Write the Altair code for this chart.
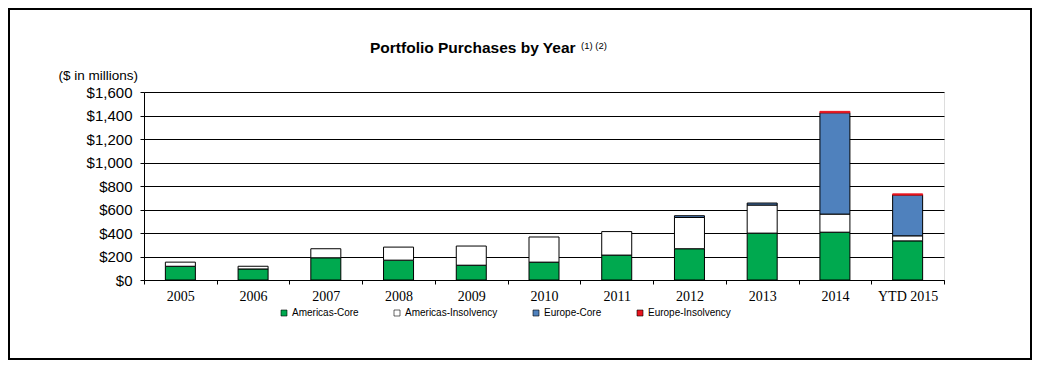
import altair as alt
import pandas as pd

years = ["2005", "2006", "2007", "2008", "2009", "2010", "2011", "2012", "2013", "2014", "YTD 2015"]
series = ["Americas-Core", "Americas-Insolvency", "Europe-Core", "Europe-Insolvency"]
americas_core = [117, 94, 189, 169, 126, 152, 212, 266, 399, 407, 333]
americas_insolvency = [35, 23, 77, 111, 163, 214, 200, 266, 239, 154, 43]
europe_core = [0, 0, 0, 0, 0, 0, 0, 15, 17, 862, 347]
europe_insolvency = [0, 0, 0, 0, 0, 0, 0, 0, 0, 12, 10]
colors = ["#00A94F", "#FFFFFF", "#4F81BD", "#E8141E"]
y_ticks = [0, 200, 400, 600, 800, 1000, 1200, 1400, 1600]

title_text = "Portfolio Purchases by Year"
title_sup = "(1) (2)"
unit_text = "($ in millions)"

rows = []
for s_i, (name, vals) in enumerate(zip(series, [americas_core, americas_insolvency, europe_core, europe_insolvency])):
    for yr, v in zip(years, vals):
        rows.append({"year": yr, "series": name, "value": v, "order": s_i})
df = pd.DataFrame(rows)

W, H = 800, 188
PAD_L, PAD_T, PAD_R, PAD_B = 136, 84, 88, 80

bars = alt.Chart(df).transform_filter("datum.value > 0").mark_bar(
    size=30, strokeWidth=1
).encode(
    x=alt.X("year:N", sort=years, title=None,
            scale=alt.Scale(paddingInner=0, paddingOuter=0),
            axis=alt.Axis(labelAngle=0, tickBand="extent", tickSize=4, tickColor="black",
                          domainColor="black", labelFont="Liberation Serif", labelFontSize=14,
                          labelColor="black", labelPadding=5, grid=False)),
    y=alt.Y("value:Q", stack="zero", title=None,
            scale=alt.Scale(domain=[0, 1600], nice=False),
            axis=alt.Axis(values=y_ticks, format="$,.0f", tickSize=4, tickColor="black",
                          domainColor="black", labelFont="Liberation Sans", labelFontSize=15,
                          labelColor="black", labelPadding=8, grid=True, gridColor="black",
                          gridOpacity=1, gridWidth=1)),
    color=alt.Color("series:N", sort=series,
                    scale=alt.Scale(domain=series, range=colors),
                    legend=alt.Legend(title=None, orient="none", direction="horizontal",
                                      legendX=135, legendY=216, symbolType="square",
                                      symbolSize=36, symbolStrokeColor="black",
                                      symbolStrokeWidth=0.6, labelFont="Liberation Sans",
                                      labelFontSize=10, labelColor="black", labelOffset=3,
                                      columnPadding=33)),
    stroke=alt.condition("datum.series == 'Europe-Insolvency'", alt.value("#E8141E"), alt.value("black")),
    order=alt.Order("order:Q"),
)

title_layer = alt.Chart(pd.DataFrame({"t": [title_text]})).mark_text(
    align="left", baseline="alphabetic", font="Liberation Sans", fontSize=15.5,
    fontWeight="bold", color="black"
).encode(text="t:N", x=alt.value(226), y=alt.value(-39))

sup_layer = alt.Chart(pd.DataFrame({"t": [title_sup]})).mark_text(
    align="left", baseline="alphabetic", font="Liberation Sans", fontSize=9.5,
    color="black"
).encode(text="t:N", x=alt.value(437), y=alt.value(-43))

unit_layer = alt.Chart(pd.DataFrame({"t": [unit_text]})).mark_text(
    align="right", baseline="alphabetic", font="Liberation Sans", fontSize=13.5,
    color="black"
).encode(text="t:N", x=alt.value(-6), y=alt.value(-12))

frame = alt.Chart(pd.DataFrame({"f": [1]})).mark_rect(
    fill=None, stroke="black", strokeWidth=2
).encode(
    x=alt.value(-PAD_L + 1), x2=alt.value(W + PAD_R - 1),
    y=alt.value(-PAD_T + 1), y2=alt.value(H + PAD_B - 1),
)

chart = alt.layer(bars, title_layer, sup_layer, unit_layer, frame).properties(
    width=W, height=H,
    autosize=alt.AutoSizeParams(type="none"),
    padding={"left": PAD_L, "top": PAD_T, "right": PAD_R, "bottom": PAD_B},
).configure_view(stroke="black", strokeWidth=1).configure(background="white")

chart.save("out.html", embed_options={"renderer": "svg", "actions": False})
